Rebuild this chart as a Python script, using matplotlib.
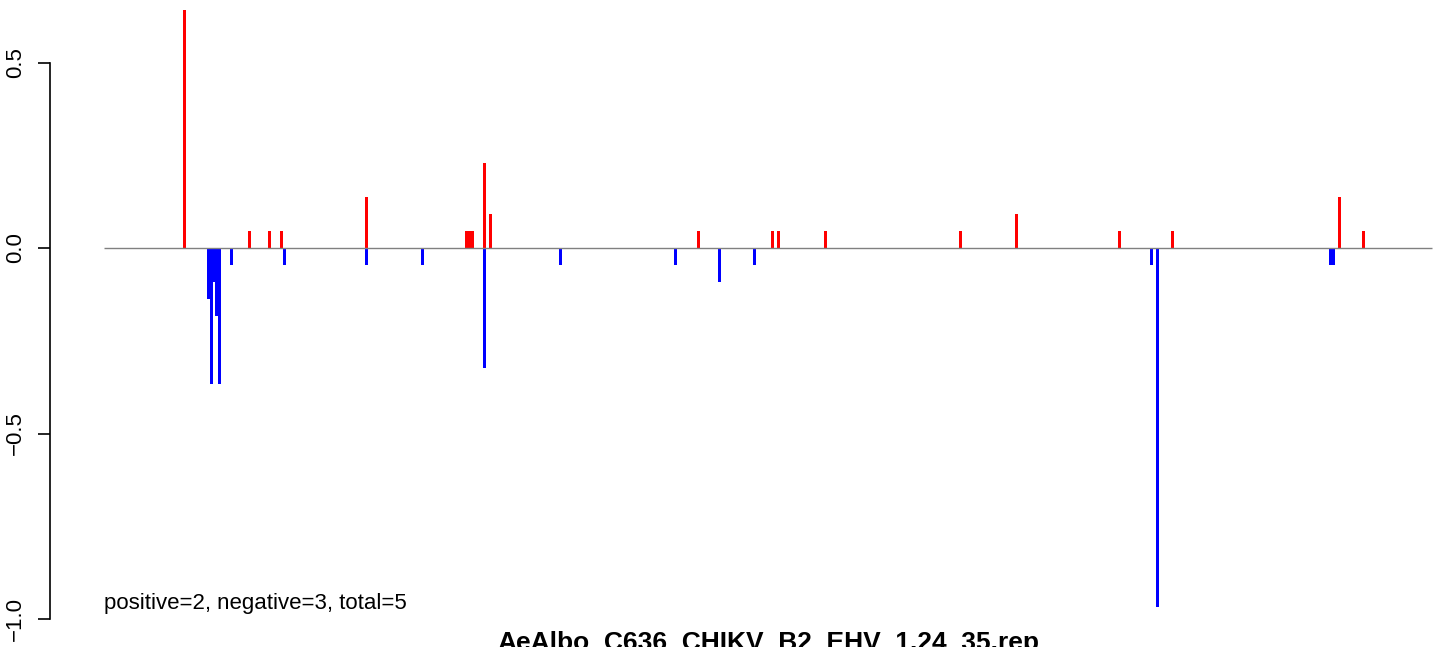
import numpy as np
import matplotlib
matplotlib.use("Agg")
import matplotlib.pyplot as plt

plt.rcParams["font.family"] = ["Liberation Sans", "DejaVu Sans"]

# ---------------- data ----------------
title = "AeAlbo_C636_CHIKV_B2_EHV_1.24_35.rep"
summary = "positive=2, negative=3, total=5"

pos_x = [80.5, 145.5, 165.5, 177.5, 262.5, 362.5, 365.5, 368.5, 380.5, 386.5,
         594.5, 668.5, 674.5, 721.5, 856.5, 912.5, 1015.5, 1068.5, 1235.5, 1259.5]
pos_y = [0.641, 0.046, 0.046, 0.046, 0.137, 0.046, 0.046, 0.046, 0.229, 0.092,
         0.046, 0.046, 0.046, 0.046, 0.046, 0.092, 0.046, 0.046, 0.137, 0.046]

neg_x = [104.5, 107.5, 110.0, 112.5, 115.5, 127.5, 180.5, 262.5, 318.5, 380.5,
         456.5, 571.5, 615.5, 650.5, 1047.5, 1053.5, 1226.5, 1229.5]
neg_y = [-0.137, -0.367, -0.092, -0.183, -0.367, -0.046, -0.046, -0.046, -0.046, -0.323,
         -0.046, -0.046, -0.092, -0.046, -0.046, -0.968, -0.046, -0.046]

x_end = 1328          # extent of the zero line
y_ticks = [-1.0, -0.5, 0.0, 0.5]

# ---------------- plot ----------------
W, H = 1444, 647
fig = plt.figure(figsize=(W / 100, H / 100), dpi=100)
ax = fig.add_axes([50 / W, 0, 1 - 50 / W, 1])

ax.bar(pos_x, pos_y, width=3, color="#ff0000", linewidth=0)
ax.bar(neg_x, neg_y, width=3, color="#0000ff", linewidth=0)
ax.hlines(0, 0, x_end, color="#808080", linewidth=1, zorder=3)

ax.set_xlim(-54, 1340)
ax.set_ylim(-(H - 248) / 371, 248 / 371)

ax.set_xticks([])
ax.set_yticks(y_ticks)
ax.set_yticklabels([f"{v:.1f}".replace("-", "\u2212") for v in y_ticks],
                   rotation=90, va="center", fontsize=16)
ax.tick_params(axis="y", length=9, width=1.2, pad=8)
for s in ["top", "right", "bottom"]:
    ax.spines[s].set_visible(False)
ax.spines["left"].set_bounds(-1.0, 0.5)
ax.spines["left"].set_linewidth(1.2)

ax.text(0, -0.973, summary, fontsize=16, ha="left", va="baseline")
# title sits at the lower edge, cut off as in the reference
ax.text(x_end / 2, -1.084, title, fontsize=19, fontweight="bold",
        ha="center", va="baseline")

fig.savefig("out.png", dpi=100)
